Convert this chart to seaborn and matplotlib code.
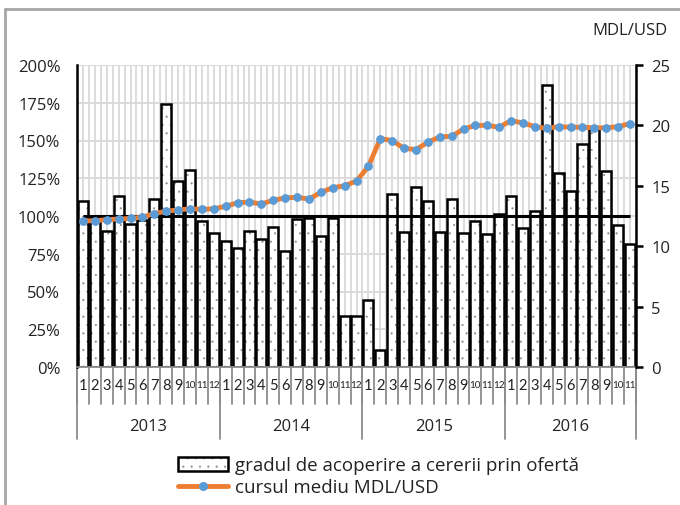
import numpy as np
import pandas as pd
import seaborn as sns
import matplotlib
matplotlib.use('Agg')
import matplotlib.pyplot as plt
from matplotlib.lines import Line2D
from matplotlib.patches import Patch
from matplotlib.legend_handler import HandlerTuple
from matplotlib.transforms import blended_transform_factory

years = ['2013', '2014', '2015', '2016']
months_per_year = [12, 12, 12, 11]
month_labels = [str(m) for n in months_per_year for m in range(1, n + 1)]

# gradul de acoperire a cererii prin oferta, %
coverage = [110, 99.5, 90, 113.5, 95, 97.5, 111.5, 174.5, 123.5, 130.5, 96.5, 89,
            83.5, 79, 90, 85, 93, 77, 98, 99, 87, 98.5, 34, 34,
            44.5, 11, 114.5, 89.5, 119.5, 110, 89.5, 111.5, 88.5, 97, 88, 101.5,
            113.5, 92, 103.5, 186.5, 128.5, 116.5, 148, 157.5, 130, 94, 81.5]

# cursul mediu MDL/USD
rate = [12.1, 12.1, 12.2, 12.25, 12.3, 12.4, 12.7, 12.9, 13.0, 13.1, 13.05, 13.1,
        13.3, 13.6, 13.65, 13.5, 13.8, 14.0, 14.05, 13.9, 14.45, 14.85,
        15.0, 15.4, 16.6, 18.9, 18.75, 18.1, 18.0, 18.6, 19.05, 19.1, 19.7, 20.0,
        20.0, 19.85, 20.4, 20.2, 19.9, 19.75, 19.9, 19.85, 19.85, 19.8, 19.8, 19.9, 20.15]

reference_level = 100

df = pd.DataFrame({'pos': range(len(coverage)), 'cov': coverage, 'rate': rate})
n = len(df)

sns.set_style('white')
plt.rcParams['font.family'] = ['Open Sans', 'DejaVu Sans']
plt.rcParams['hatch.linewidth'] = 0.3

txt = '#222222'
dot_col = '#8c8c8c'
fig = plt.figure(figsize=(6.8, 5.06), dpi=100)
ax = fig.add_axes([77 / 680, 1 - 368 / 506, 559 / 680, 302 / 506])

# dotted fill first, black outline on top
sns.barplot(data=df, x='pos', y='cov', ax=ax, color='white', saturation=1,
            edgecolor=dot_col, linewidth=0, hatch='..', width=0.85, zorder=2)
sns.barplot(data=df, x='pos', y='cov', ax=ax, fill=False, saturation=1,
            edgecolor='black', linewidth=1.8, width=0.85, zorder=2.5)
ax.hlines(reference_level, 0, n - 1, color='black', lw=2.2, zorder=3)

ax.set_xlim(-0.5, n - 0.5)
ax.set_ylim(0, 200)
ax.set_yticks(np.arange(0, 201, 25))
ax.set_yticklabels([f'{v}%' for v in range(0, 201, 25)], fontsize=12, color=txt)
ax.set_xticks(np.arange(n))
ax.set_xticks(np.arange(-0.5, n, 1.0), minor=True)
ax.set_xticklabels([])
ax.tick_params(axis='both', which='both', length=0)
ax.tick_params(axis='y', pad=12)
ax.grid(True, axis='y', color='#d9d9d9', lw=1.3, zorder=0)
ax.grid(True, axis='x', which='both', color='#d9d9d9', lw=1.3, zorder=0)
ax.set_axisbelow(True)
ax.set_xlabel('')
ax.set_ylabel('')
for s in ['top', 'right']:
    ax.spines[s].set_visible(False)
ax.spines['left'].set_color('black')
ax.spines['left'].set_linewidth(1.8)
ax.spines['bottom'].set_color('#8c8c8c')
ax.spines['bottom'].set_linewidth(1.3)

# month labels and category separators below the axis
trans = blended_transform_factory(ax.transData, ax.transAxes)
for i, lab in enumerate(month_labels):
    ax.text(i, -0.058, lab, transform=trans, ha='center', va='center',
            fontsize=7.2 if len(lab) > 1 else 10.5, color=txt, clip_on=False,
            family=['Lato', 'DejaVu Sans'])
for i in range(n + 1):
    ax.plot([i - 0.5, i - 0.5], [0, -0.122], transform=trans, color='#8c8c8c',
            lw=1.3, clip_on=False)
start = 0
for y, cnt in zip(years, months_per_year):
    ax.plot([start - 0.5, start - 0.5], [0, -0.238], transform=trans,
            color='#8c8c8c', lw=1.3, clip_on=False)
    ax.text(start + (cnt - 1) / 2, -0.195, y, transform=trans, ha='center',
            va='center', fontsize=12, color=txt, clip_on=False)
    start += cnt
ax.plot([n - 0.5, n - 0.5], [0, -0.238], transform=trans, color='#8c8c8c',
        lw=1.3, clip_on=False)

ax2 = ax.twinx()
sns.lineplot(data=df, x='pos', y='rate', ax=ax2, color='#ED7D31', lw=3.5,
             marker='o', markersize=5.5, markerfacecolor='#5B9BD5',
             markeredgecolor='#5B9BD5', zorder=4)
ax2.set_ylim(0, 25)
ax2.set_xlim(-0.5, n - 0.5)
ax2.set_yticks(np.arange(0, 26, 5))
ax2.set_yticklabels([str(v) for v in range(0, 26, 5)], fontsize=12, color=txt)
ax2.tick_params(axis='y', length=5, width=1.8, color='black', pad=6)
ax2.set_xlabel('')
ax2.set_ylabel('')
for s in ['top', 'left', 'bottom']:
    ax2.spines[s].set_visible(False)
ax2.spines['right'].set_color('black')
ax2.spines['right'].set_linewidth(1.8)
ax2.grid(False)

fig.text(668 / 680, 1 - 31 / 506, 'MDL/USD', ha='right', va='center',
         fontsize=12, color=txt)

bar_handle = (Patch(facecolor='white', edgecolor=dot_col, hatch='..', lw=0),
              Patch(facecolor='none', edgecolor='black', lw=1.8))
line_handle = Line2D([], [], color='#ED7D31', lw=3.5, marker='o', markersize=5.5,
                     markerfacecolor='#5B9BD5', markeredgecolor='#5B9BD5', markevery=[1])
leg = fig.legend([bar_handle, line_handle],
                 ['gradul de acoperire a cererii prin ofertă', 'cursul mediu MDL/USD'],
                 handler_map={tuple: HandlerTuple(ndivide=1, pad=0)},
                 loc='upper left', bbox_to_anchor=(170 / 680, 1 - 450 / 506),
                 frameon=False, fontsize=13.5, handlelength=2.7, handleheight=0.7,
                 handletextpad=0.35, labelspacing=0.2, borderaxespad=0)
for t in leg.get_texts():
    t.set_color(txt)

# outer frame (left and top edges visible in the reference)
fig.add_artist(Line2D([5 / 680, 5 / 680], [0, 1 - 10 / 506], transform=fig.transFigure,
                      color='#a6a6a6', lw=2))
fig.add_artist(Line2D([5 / 680, 1], [1 - 10 / 506, 1 - 10 / 506], transform=fig.transFigure,
                      color='#a6a6a6', lw=2))

fig.savefig('out.png', dpi=100)
